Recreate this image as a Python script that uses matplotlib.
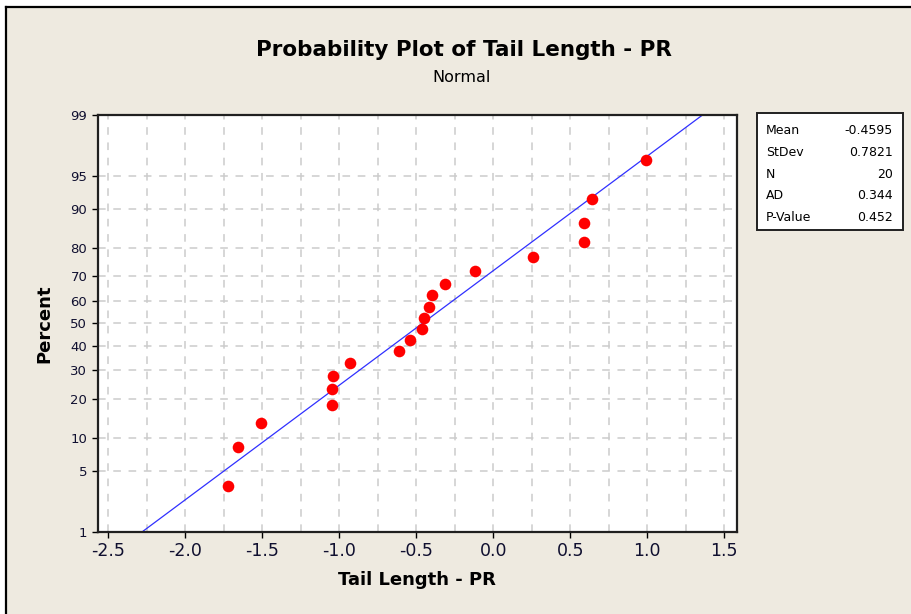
import numpy as np
import matplotlib.pyplot as plt
from matplotlib.patches import Rectangle
from statistics import NormalDist

# tail length values (sorted), with their plotted percents
tail = [-1.72, -1.66, -1.51, -1.05, -1.05, -1.04, -0.93, -0.61, -0.54, -0.46,
        -0.45, -0.42, -0.40, -0.31, -0.12, 0.26, 0.59, 0.59, 0.64, 0.99]
pct = [3.43, 8.33, 13.24, 18.14, 23.04, 27.94, 32.84, 37.75, 42.65, 47.55,
       52.45, 57.35, 62.25, 67.16, 72.06, 76.96, 81.86, 86.76, 91.67, 96.57]

mean, stdev = -0.4595, 0.7821
stats_names = ['Mean', 'StDev', 'N', 'AD', 'P-Value']
stats_vals = ['-0.4595', '0.7821', '20', '0.344', '0.452']

pct_ticks = [1, 5, 10, 20, 30, 40, 50, 60, 70, 80, 90, 95, 99]
x_ticks = [-2.5, -2.0, -1.5, -1.0, -0.5, 0.0, 0.5, 1.0, 1.5]

nd = NormalDist()
def z(p):
    return nd.inv_cdf(p / 100.0)

bg = '#eeeae0'
fig = plt.figure(figsize=(9.12, 6.14), dpi=100, facecolor='white')
fig.patches.append(Rectangle((6 / 912, 0), 1, 1 - 7 / 614, transform=fig.transFigure,
                             facecolor=bg, edgecolor='none', zorder=-2))
fig.add_artist(plt.Line2D([6 / 912, 6 / 912], [0, 1 - 7 / 614], color='black', lw=1.6,
                          transform=fig.transFigure))
fig.add_artist(plt.Line2D([6 / 912, 1], [1 - 7 / 614, 1 - 7 / 614], color='black', lw=1.6,
                          transform=fig.transFigure))

ax = fig.add_axes([97.7 / 912, 1 - 531.7 / 614, 639 / 912, 416.7 / 614])
ax.set_facecolor('white')

# grid
for gx in np.arange(-2.5, 1.51, 0.25):
    ax.axvline(gx, color='#cccccc', lw=1.1, ls=(0, (5, 5)), zorder=0)
for p in pct_ticks[1:-1]:
    ax.axhline(z(p), color='#cccccc', lw=1.1, ls=(0, (5, 5)), zorder=0)

# fitted line
zz = np.array([z(1), z(99)])
ax.plot(mean + stdev * zz, zz, color='#3030ff', lw=0.9, zorder=2)

ax.scatter(tail, [z(p) for p in pct], s=70, color='#ff0000', zorder=3, linewidths=0)

ax.set_xlim(-2.569, 1.582)
ax.set_ylim(z(1), z(99))
ax.set_xticks(x_ticks)
ax.set_xticklabels([f'{v:.1f}' for v in x_ticks], fontsize=12.5, color='#101030')
ax.set_yticks([z(p) for p in pct_ticks])
ax.set_yticklabels([str(p) for p in pct_ticks], fontsize=9.5, color='#101030')
ax.tick_params(direction='out', length=4, width=1)
for s in ax.spines.values():
    s.set_linewidth(1.6)
    s.set_color('#202020')

ax.set_xlabel('Tail Length - PR', fontsize=13, fontweight='bold', labelpad=8)
ax.set_ylabel('Percent', fontsize=13, fontweight='bold', labelpad=12)

fig.text(464 / 912, 1 - 50 / 614, 'Probability Plot of Tail Length - PR', fontsize=15.5,
         fontweight='bold', ha='center', va='center')
fig.text(462 / 912, 1 - 77 / 614, 'Normal', fontsize=11.5, ha='center', va='center')

# stats box
fig.patches.append(Rectangle((757 / 912, 1 - 230 / 614), 146 / 912, 117 / 614,
                             transform=fig.transFigure, facecolor='white',
                             edgecolor='#202020', lw=1.4))
for i, (n, v) in enumerate(zip(stats_names, stats_vals)):
    y = 1 - (130 + i * 22) / 614
    fig.text(766 / 912, y, n, fontsize=9, ha='left', va='center')
    fig.text(893 / 912, y, v, fontsize=9, ha='right', va='center')

fig.savefig('out.png', dpi=100, facecolor=fig.get_facecolor())
